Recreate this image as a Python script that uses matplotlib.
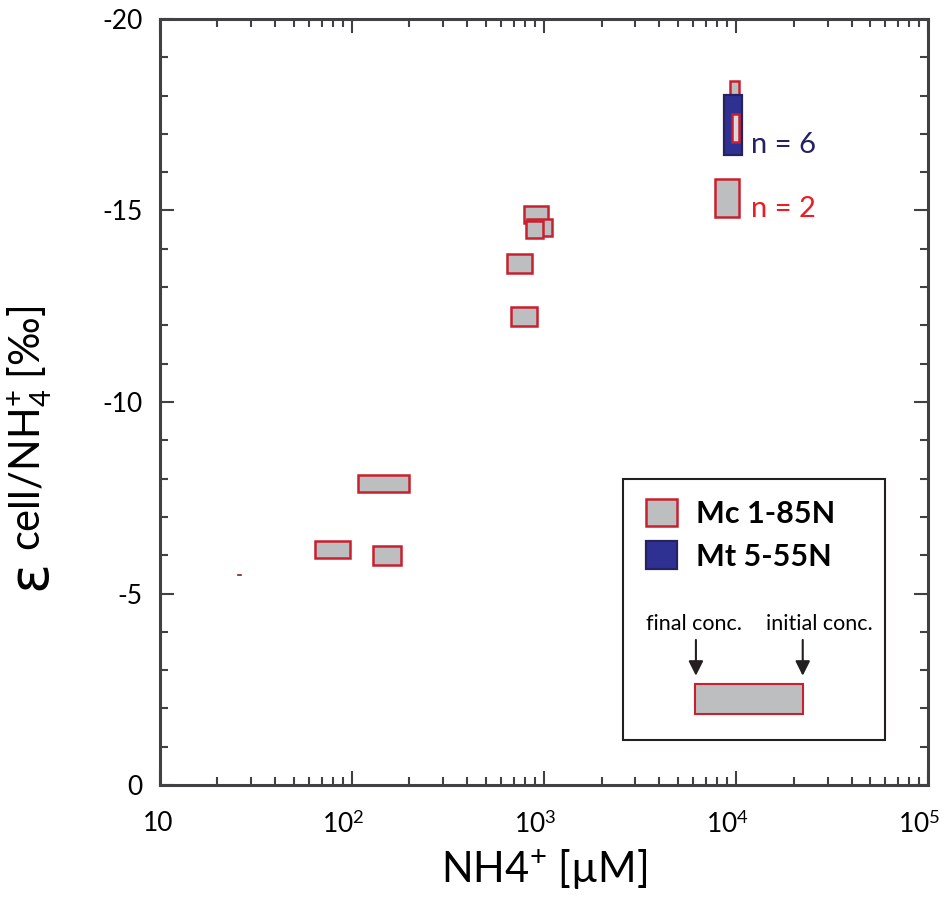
import matplotlib
matplotlib.use("Agg")
import matplotlib.pyplot as plt
import matplotlib.transforms as mtransforms
from matplotlib.patches import Rectangle, Patch

# -------------------------------
# Data
# -------------------------------
# Mc 1-85N : gray boxes, x = final..initial NH4+ conc [uM], y = epsilon range
mc_x_lo = [108, 64.5, 129, 789, 818, 809, 645, 676, 7790, 9330]
mc_x_hi = [199, 98, 181, 1052, 1104, 991, 869, 923, 10400, 10400]
mc_y_lo = [-8.09, -6.37, -6.24, -15.12, -14.78, -14.73, -13.86, -12.48, -15.82, -18.38]
mc_y_hi = [-7.65, -5.93, -5.74, -14.67, -14.33, -14.28, -13.37, -11.98, -14.83, -18.02]

# Mt 5-55N : blue box
mt_x_lo = [8680]
mt_x_hi = [10770]
mt_y_lo = [-18.02]
mt_y_hi = [-16.45]

# light box drawn inside the blue one
inner_x_lo = [9550]
inner_x_hi = [10400]
inner_y_lo = [-17.52]
inner_y_hi = [-16.79]

# tiny stray mark
stray_x = [25.6, 26.6]
stray_y = [-5.48, -5.48]

# n labels
n_labels = ["n = 6", "n = 2"]
n_x = [12000, 12000]
n_y = [-16.7, -15.05]
n_colors = ["#262262", "#ed1c24"]

x_ticks = [10, 1e2, 1e3, 1e4, 1e5]
x_ticklabels = ["10", "10$^2$", "10$^3$", "10$^4$", "10$^5$"]
y_ticks = [0, -5, -10, -15, -20]
y_ticklabels = ["0", "-5", "-10", "-15", "-20"]

GRAY = "#bcbec0"
LIGHT = "#d9dadb"
RED = "#c8202f"
BLUE = "#2e3192"
NAVY = "#262262"
DARK = "#414042"

plt.rcParams["font.family"] = ["Lato", "DejaVu Sans"]
plt.rcParams["mathtext.fontset"] = "custom"
plt.rcParams["mathtext.rm"] = "Lato"
plt.rcParams["mathtext.it"] = "Lato:italic"
plt.rcParams["mathtext.bf"] = "Lato:bold"

# -------------------------------
# Figure / axes
# -------------------------------
fig = plt.figure(figsize=(9.42, 9.22), dpi=100)
ax = fig.add_axes([159.5 / 942, 1 - 785 / 922, 768.5 / 942, 766 / 922])

ax.set_xscale("log")
ax.set_xlim(10, 1e5)
ax.set_ylim(0, -20)

# boxes
def add_boxes(xl, xh, yl, yh, fc, ec, lw):
    for x0, x1, y0, y1 in zip(xl, xh, yl, yh):
        ax.add_patch(Rectangle((x0, y0), x1 - x0, y1 - y0, facecolor=fc,
                               edgecolor=ec, linewidth=lw, zorder=3))

add_boxes(mc_x_lo, mc_x_hi, mc_y_lo, mc_y_hi, GRAY, RED, 1.8)
add_boxes(mt_x_lo, mt_x_hi, mt_y_lo, mt_y_hi, BLUE, NAVY, 1.6)
add_boxes(inner_x_lo, inner_x_hi, inner_y_lo, inner_y_hi, LIGHT, RED, 1.8)
ax.plot(stray_x, stray_y, color="#7a1f1f", lw=1.2, zorder=3)

for txt, x, y, c in zip(n_labels, n_x, n_y, n_colors):
    ax.text(x, y, txt, color=c, fontsize=21, ha="left", va="center", zorder=4)

# ticks
ax.set_xticks(x_ticks)
ax.set_xticklabels(x_ticklabels)
ax.set_yticks(y_ticks)
ax.set_yticklabels(y_ticklabels)
ax.yaxis.set_minor_locator(matplotlib.ticker.MultipleLocator(1))
ax.tick_params(which="both", direction="in", top=True, right=True,
               color=DARK, width=1.5)
ax.tick_params(which="major", length=10)
ax.tick_params(which="minor", length=6)
ax.tick_params(axis="y", which="major", labelsize=19, pad=12)
ax.tick_params(axis="x", which="major", labelsize=19, pad=19)
ax.xaxis.set_minor_formatter(matplotlib.ticker.NullFormatter())
# the reference centres the "10" part on the tick, superscript hangs right
for i, lab in enumerate(ax.get_xticklabels()):
    dx = -1 if i == 0 else -6
    lab.set_transform(lab.get_transform() +
                      mtransforms.ScaledTranslation(dx / 72, 0, fig.dpi_scale_trans))
for s in ax.spines.values():
    s.set_color(DARK)
    s.set_linewidth(2.2)

# axis labels
ax.set_xlabel("NH4$^{+}$ [µM]", fontsize=30, labelpad=6)
fig.text(30 / 942, 1 - 575 / 922, "ε", fontsize=40, rotation=90,
         ha="center", va="center", family=["DejaVu Sans"])
fig.text(30 / 942, 1 - 428 / 922, "cell/NH$_{4}^{+}$ [‰]", fontsize=30,
         rotation=90, ha="center", va="center")

# -------------------------------
# Legend box with key
# -------------------------------
ax.add_patch(Rectangle((0.603, 0.0587), 0.341, 0.3408, transform=ax.transAxes,
                       facecolor="white", edgecolor="#231f20", lw=1.5, zorder=5))
handles = [Patch(facecolor=GRAY, edgecolor=RED, lw=1.8),
           Patch(facecolor=BLUE, edgecolor=NAVY, lw=1.6)]
leg = ax.legend(handles, ["Mc 1-85N", "Mt 5-55N"], loc="upper left",
                bbox_to_anchor=(0.633, 0.374), frameon=False, borderpad=0,
                borderaxespad=0, handlelength=1.0, handleheight=1.0,
                handletextpad=0.65, labelspacing=0.45,
                prop={"size": 22, "weight": "bold"})
leg.set_zorder(6)

ax.text(0.6955, 0.210, "final conc.", transform=ax.transAxes, fontsize=15.5,
        ha="center", va="center", zorder=6)
ax.text(0.859, 0.210, "initial conc.", transform=ax.transAxes, fontsize=15.5,
        ha="center", va="center", zorder=6)
for xa in (0.698, 0.837):
    ax.annotate("", xy=(xa, 0.139), xytext=(xa, 0.193), xycoords="axes fraction",
                arrowprops=dict(arrowstyle="-|>", color="#231f20", lw=1.5,
                                mutation_scale=22), zorder=6)
ax.add_patch(Rectangle((0.697, 0.0927), 0.140, 0.0393, transform=ax.transAxes,
                       facecolor=GRAY, edgecolor=RED, lw=1.5, zorder=6))

fig.savefig("out.png", dpi=100)
